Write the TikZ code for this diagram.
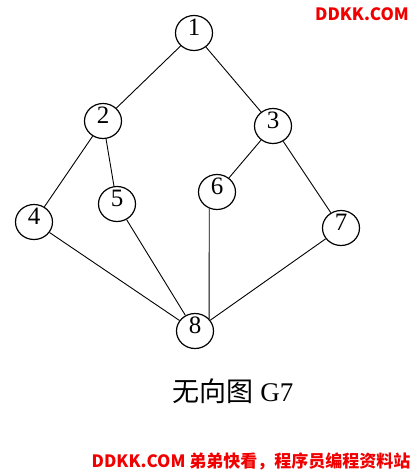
\documentclass[tikz,border=0pt]{standalone}
\usepackage{fontspec}
\setmainfont{Liberation Serif}
\newfontfamily\cjk{Noto Sans CJK SC}
\usetikzlibrary{shapes.geometric}
\definecolor{markred}{RGB}{240,0,0}

\begin{document}
\begin{tikzpicture}[x=1pt,y=-1pt,
  vtx/.style={draw,line width=1.2pt,ellipse,inner sep=0pt,minimum width=37pt,minimum height=35pt,
    text height=10pt,text depth=5pt,font=\fontsize{25}{25}\selectfont},
  edge/.style={line width=0.9pt}]
\useasboundingbox (0,0) rectangle (414,472);
% vertices
\node[vtx] (v1) at (194,33) {1};
\node[vtx] (v2) at (103,121) {2};
\node[vtx] (v3) at (273,126) {3};
\node[vtx] (v4) at (34,222) {4};
\node[vtx] (v5) at (117,204) {5};
\node[vtx] (v6) at (217,192) {6};
\node[vtx] (v7) at (341,228) {7};
\node[vtx] (v8) at (195,331) {8};
% edges
\draw[edge] (v1)--(v2);
\draw[edge] (v1)--(v3);
\draw[edge] (v2)--(v4);
\draw[edge] (v2)--(v5);
\draw[edge] (v3)--(v6);
\draw[edge] (v3)--(v7);
\draw[edge] (v4)--(v8);
\draw[edge] (v5)--(v8);
\draw[edge] (v6.245)--(v8.41);
\draw[edge] (v7)--(v8);
% caption
\node[font=\fontsize{27}{27}\selectfont] (cap) at (233,391) {{\cjk 无向图} G7};
% marks
\node[font=\cjk\bfseries\fontsize{17}{17}\selectfont,text=markred] (mk1) at (362,14) {DDKK.COM};
\node[font=\cjk\bfseries\fontsize{17}{17}\selectfont,text=markred] (mk2) at (251,461) {DDKK.COM 弟弟快看，程序员编程资料站};
\end{tikzpicture}
\end{document}
